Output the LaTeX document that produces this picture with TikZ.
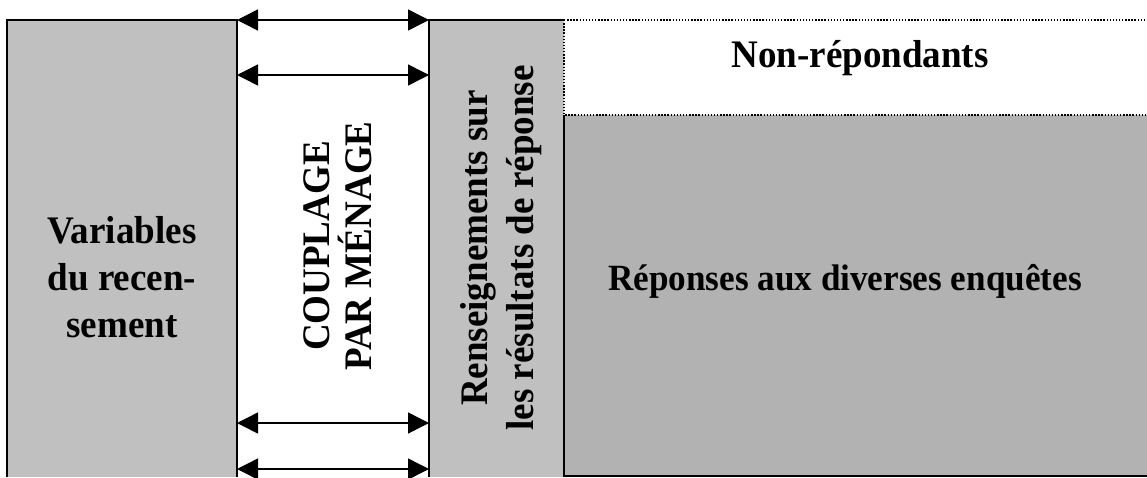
\documentclass[tikz,border=0pt]{standalone}
\usepackage{fontspec}
\setmainfont{Liberation Serif}[FakeStretch=0.95]
\usetikzlibrary{arrows.meta}
\definecolor{grisclair}{HTML}{C0C0C0}
\definecolor{grisfonce}{HTML}{B2B2B2}
\begin{document}
\begin{tikzpicture}[x=1pt,y=-1pt]
       \tikzstyle{bord} = [line width=1.6pt];
       \tikzstyle{pointille} = [line width=1.4pt, dash pattern=on 1.4pt off 1.7pt];
       \tikzstyle{fleche} = [line width=1.5pt, {Triangle[length=21pt,width=21pt]}-{Triangle[length=21pt,width=21pt]}];
       \tikzstyle{titre} = [font=\fontsize{39}{46}\selectfont\bfseries, align=center, inner sep=0pt];
       \useasboundingbox (0,0) rectangle (1147,477);
       % fonds
       \fill[grisclair] (7,20) rectangle (237,477);
       \fill[grisclair] (429,20) rectangle (564,477);
       \fill[grisfonce] (564,115) rectangle (1147,476);
       % cadres
       \draw[bord] (7,477) -- (7,20) -- (237,20) -- (237,477);
       \draw[bord] (429,477) -- (429,20) -- (564,20);
       \draw[pointille] (564,20) -- (1147,20);
       \draw[pointille] (564,20) -- (564,115) -- (1147,115);
       \draw[bord] (564,115) -- (564,476) -- (1147,476);
       % extremites des fleches
       \coordinate (g1) at (237,20);  \coordinate (d1) at (429,20);
       \coordinate (g2) at (237,75);  \coordinate (d2) at (429,75);
       \coordinate (g3) at (237,423); \coordinate (d3) at (429,423);
       \coordinate (g4) at (237,469); \coordinate (d4) at (429,469);
       % textes
       \node[titre] (variables) at (122,277) {Variables\\[1pt]du recen-\\[1pt]sement};
       \node[titre, rotate=90] (couplage) at (338,246) {COUPLAGE\\[-4pt]PAR MÉNAGE};
       \node[titre, rotate=90] (renseignements) at (501,248) {Renseignements sur\\les résultats de réponse};
       \node[titre] (nonrep) at (860,58) {Non-répondants};
       \node[titre, font=\fontsize{37}{46}\selectfont\bfseries] (reponses) at (845,281) {Réponses aux diverses enquêtes};
       % fleches
       \draw[fleche] (g1) -- (d1);
       \draw[fleche] (g2) -- (d2);
       \draw[fleche] (g3) -- (d3);
       \draw[fleche] (g4) -- (d4);
     \end{tikzpicture}
\end{document}
